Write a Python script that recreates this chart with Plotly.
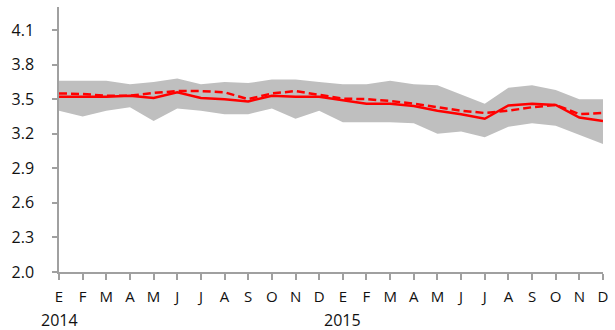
import plotly.graph_objects as go

months = ["E","F","M","A","M","J","J","A","S","O","N","D",
          "E","F","M","A","M","J","J","A","S","O","N","D"]
years = ["2014", "2015"]
year_pos = [0, 12]

upper = [3.66,3.66,3.66,3.63,3.65,3.68,3.63,3.65,3.64,3.67,3.67,3.65,
         3.63,3.63,3.66,3.63,3.62,3.54,3.46,3.60,3.62,3.58,3.50,3.50]
lower = [3.40,3.35,3.40,3.43,3.31,3.42,3.40,3.37,3.37,3.42,3.33,3.40,
         3.30,3.30,3.30,3.29,3.20,3.22,3.17,3.26,3.29,3.27,3.19,3.11]
solid = [3.52,3.52,3.52,3.53,3.51,3.56,3.51,3.50,3.48,3.53,3.52,3.52,
         3.49,3.46,3.46,3.44,3.40,3.37,3.33,3.445,3.46,3.45,3.34,3.31]
dashed = [3.55,3.545,3.53,3.53,3.555,3.57,3.57,3.56,3.50,3.55,3.57,3.54,
          3.505,3.50,3.485,3.46,3.43,3.40,3.38,3.40,3.43,3.45,3.37,3.38]

yticks = [2.0, 2.3, 2.6, 2.9, 3.2, 3.5, 3.8, 4.1]

x = list(range(len(months)))

fig = go.Figure()
fig.add_trace(go.Scatter(x=x, y=lower, mode="lines", line=dict(width=0, color="#BFBFBF"),
                         showlegend=False, hoverinfo="skip"))
fig.add_trace(go.Scatter(x=x, y=upper, mode="lines", line=dict(width=0, color="#BFBFBF"),
                         fill="tonexty", fillcolor="#BFBFBF", showlegend=False))
fig.add_trace(go.Scatter(x=x, y=solid, mode="lines", line=dict(width=2.5, color="#FF0000"),
                         showlegend=False))
fig.add_trace(go.Scatter(x=x, y=dashed, mode="lines",
                         line=dict(width=2.5, color="#FF0000", dash="8px,4px"),
                         showlegend=False))

for yr, p in zip(years, year_pos):
    fig.add_annotation(x=p, y=0, xref="x", yref="paper", yshift=-48, text=yr,
                       showarrow=False, font=dict(size=16, color="#111"),
                       xanchor="center", yanchor="middle", borderpad=0)

fig.update_layout(
    width=615, height=330,
    margin=dict(l=59, r=9, t=7, b=58),
    paper_bgcolor="white", plot_bgcolor="white",
    font=dict(family="Open Sans, Liberation Sans, sans-serif", size=15, color="#111"),
)
fig.update_xaxes(range=[0, 23], tickvals=x, ticktext=months, showgrid=False,
                 showline=True, linecolor="#A0A0A0", linewidth=1.5,
                 ticks="outside", ticklen=6, tickcolor="#A0A0A0", tickwidth=1.5,
                 tickfont=dict(size=15), zeroline=False, ticklabelstandoff=4)
fig.update_yaxes(range=[2.0, 4.3], tickvals=yticks, tickformat=".1f", showgrid=False,
                 showline=True, linecolor="#A0A0A0", linewidth=1.5,
                 ticks="outside", ticklen=5, tickcolor="#A0A0A0", tickwidth=1.5,
                 tickfont=dict(size=16), zeroline=False, ticklabelstandoff=15)

fig.write_html("out.html", config={"displayModeBar": False},
               post_script="document.body.style.margin='0';document.body.style.overflow='hidden';")
